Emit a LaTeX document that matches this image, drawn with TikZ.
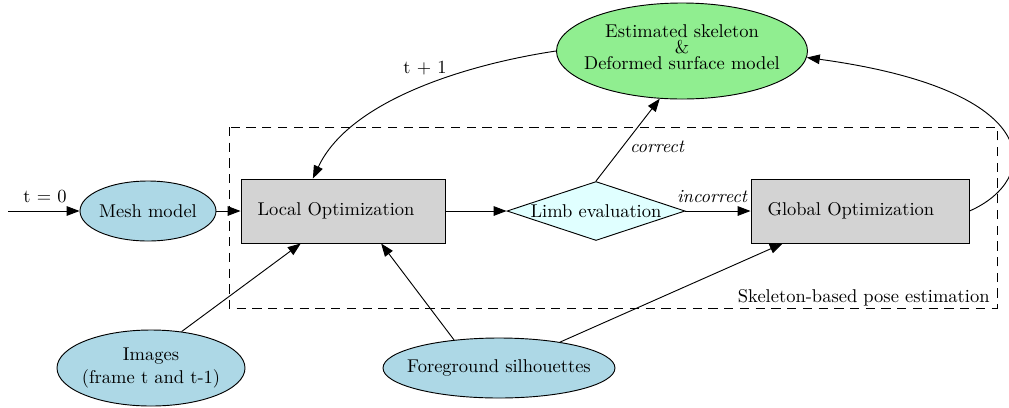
\documentclass[tikz,border=0pt]{standalone}
\usetikzlibrary{shapes.geometric,arrows.meta,calc}
\definecolor{lblue}{HTML}{ADD8E6}
\definecolor{lgray}{HTML}{D3D3D3}
\definecolor{lgreen}{HTML}{90EE90}
\definecolor{lcyan}{HTML}{E0FFFF}
\begin{document}
\begin{tikzpicture}[x=0.019cm,y=-0.019cm,
  line width=0.5pt,
  arr/.style={-{Triangle[length=7pt,width=5.2pt]}},
  ell/.style={ellipse,draw,inner sep=0pt},
  ctext/.style={label={[inner sep=0pt,align=center]center:#1}},
  boxnode/.style={rectangle,draw,fill=lgray,inner xsep=16.5*0.019cm,inner ysep=0pt,
     minimum height=64*0.019cm,align=left},
  lbl/.style={inner sep=0pt}]
\useasboundingbox (0,0) rectangle (1009,407);
\clip (0,0) rectangle (1009,407);
% dashed cluster
\draw[dash pattern=on 5pt off 3.5pt] (229,127) rectangle (997,308);
\node[lbl,anchor=base east] (clab) at (990,302) {Skeleton-based pose estimation};
% nodes
\node[ell,fill=lblue,minimum width=136*0.019cm,minimum height=60*0.019cm,ctext={Mesh model}] (mesh) at (148,211) {};
\node[boxnode,text width=171*0.019cm] (local) at (343,211) {Local Optimization};
\node[diamond,draw,fill=lcyan,inner sep=0pt,minimum width=178*0.019cm,minimum height=59*0.019cm] (limb) at (596,211) {\makebox[0pt]{Limb evaluation}};
\node[boxnode,text width=185*0.019cm] (glob) at (860,211) {Global Optimization};
\node[ell,fill=lgreen,minimum width=251*0.019cm,minimum height=96*0.019cm,
  label={[inner sep=0pt,align=center,yshift=4*0.019cm]center:Estimated skeleton\\[-3.3pt]\&\\[-3.3pt]Deformed surface model}] (est) at (682,51) {};
\node[ell,fill=lblue,minimum width=188*0.019cm,minimum height=76*0.019cm,
  ctext={Images\\(frame t and t-1)}] (img) at (151,368) {};
\node[ell,fill=lblue,minimum width=232*0.019cm,minimum height=60*0.019cm,
  ctext={Foreground silhouettes}] (fg) at (499,368) {};
\coordinate (start) at (8,211);
% edges
\draw[arr] (start) -- (mesh);
\node[lbl] (t0) at (45,197) {t = 0};
\draw[arr] (mesh) -- (local);
\draw[arr] (local) -- (limb.west);
\draw[arr] (limb.east) -- (glob);
\node[lbl,font=\itshape] (inc) at (712,197) {incorrect};
\draw[arr] (limb.north) -- (est.245);
\node[lbl,font=\itshape] (cor) at (657,147) {correct};
\draw[arr] (est.west) .. controls +(-87,13) and +(37,-79) .. ($(local.north west)!0.353!(local.north east)$);
\node[lbl] (t1) at (425,68) {t + 1};
\draw[arr] (glob.east) .. controls +(71,-31) and +(242,33) .. (est.357);
\draw[arr] (img.50) -- ($(local.south west)!0.294!(local.south east)$);
\draw[arr] (fg.148) -- ($(local.south west)!0.686!(local.south east)$);
\draw[arr] (fg.23) -- ($(glob.south west)!0.147!(glob.south east)$);
\end{tikzpicture}
\end{document}
